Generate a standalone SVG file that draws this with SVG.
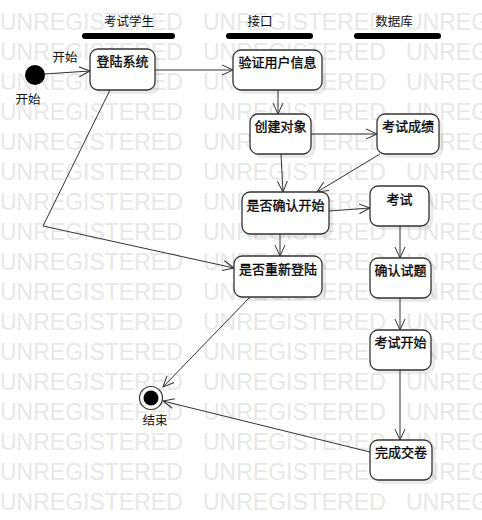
<svg xmlns="http://www.w3.org/2000/svg" xmlns:xlink="http://www.w3.org/1999/xlink" width="482" height="520" viewBox="0 0 482 520">
<style>
.wm{font-family:"Liberation Sans",Arial,sans-serif;font-size:23px;fill:#e8e8e8}
.box{fill:#fff;stroke:#333;stroke-width:1.3}
.shadow{fill:#000;fill-opacity:0.08}
.lbl{font-family:"Noto Sans CJK SC",sans-serif;font-size:13px;fill:#000;stroke:#000;stroke-width:0.3;text-anchor:middle}
.hdr{font-family:"Noto Sans CJK SC",sans-serif;font-size:12.5px;fill:#111;text-anchor:middle}
.note{font-family:"Noto Sans CJK SC",sans-serif;font-size:12.5px;fill:#111;text-anchor:middle}
.bar{fill:#000}
.edge{fill:none;stroke:#333;stroke-width:1;marker-end:url(#arr)}
</style>
<defs>
<marker id="arr" viewBox="0 0 12 12" refX="11" refY="6" markerWidth="12" markerHeight="12" markerUnits="userSpaceOnUse" orient="auto">
<path d="M0,1 L11,6 L0,11" fill="none" stroke="#333" stroke-width="1"/>
</marker>
<g id="wmrow">
<text class="wm" x="0">UNREGISTERED</text>
<text class="wm" x="203">UNREGISTERED</text>
<text class="wm" x="406">UNREGISTERED</text>
</g>
</defs>
<rect width="482" height="520" fill="#fff"/>
<g id="watermark">
<use xlink:href="#wmrow" y="30"/><use xlink:href="#wmrow" y="60"/><use xlink:href="#wmrow" y="90"/><use xlink:href="#wmrow" y="120"/><use xlink:href="#wmrow" y="150"/><use xlink:href="#wmrow" y="180"/><use xlink:href="#wmrow" y="210"/><use xlink:href="#wmrow" y="240"/><use xlink:href="#wmrow" y="270"/><use xlink:href="#wmrow" y="300"/><use xlink:href="#wmrow" y="330"/><use xlink:href="#wmrow" y="360"/><use xlink:href="#wmrow" y="390"/><use xlink:href="#wmrow" y="420"/><use xlink:href="#wmrow" y="450"/><use xlink:href="#wmrow" y="480"/><use xlink:href="#wmrow" y="510"/>
</g>
<g id="lanes">
<text class="hdr" x="129" y="26">考试学生</text>
<rect class="bar" x="82" y="33" width="93" height="6" rx="3"/>
<text class="hdr" x="260" y="26">接口</text>
<rect class="bar" x="226" y="33" width="87" height="6" rx="3"/>
<text class="hdr" x="394" y="26">数据库</text>
<rect class="bar" x="354" y="33" width="87" height="6" rx="3"/>
</g>
<g id="connectors">
<path class="edge" d="M44,74 L90,71"/>
<path class="edge" d="M155,70 L233,70"/>
<path class="edge" d="M278,90 L278,114"/>
<path class="edge" d="M311,134 L377,134"/>
<path class="edge" d="M281,154 L283,192"/>
<path class="edge" d="M380,154 L317,192"/>
<path class="edge" d="M329,211 L370,208"/>
<path class="edge" d="M280,234 L280,256"/>
<path class="edge" d="M110,90 L43,226 L234,268"/>
<path class="edge" d="M400,226 L400,258"/>
<path class="edge" d="M400,298 L400,330"/>
<path class="edge" d="M400,370 L400,440"/>
<path class="edge" d="M250,297 L163,387"/>
<path class="edge" d="M370,452 L163,401"/>
<text class="note" x="65" y="62">开始</text>
</g>
<g id="start">
<circle cx="35" cy="75" r="10" fill="#000"/>
<text class="note" x="28" y="104">开始</text>
</g>
<g id="end">
<circle cx="151" cy="398" r="11.5" fill="#fff" stroke="#333" stroke-width="1.2"/>
<circle cx="151" cy="398" r="7.5" fill="#000"/>
<text class="note" x="155" y="425">结束</text>
</g>
<g id="n-login"><rect class="shadow" x="94" y="53" width="65" height="41" rx="8"/><rect class="box" x="90" y="49" width="65" height="41" rx="8"/><text class="lbl" x="122.5" y="66">登陆系统</text></g>
<g id="n-verify"><rect class="shadow" x="237" y="54" width="89" height="40" rx="8"/><rect class="box" x="233" y="50" width="89" height="40" rx="8"/><text class="lbl" x="277.5" y="67">验证用户信息</text></g>
<g id="n-create"><rect class="shadow" x="254" y="118" width="61" height="40" rx="8"/><rect class="box" x="250" y="114" width="61" height="40" rx="8"/><text class="lbl" x="280.5" y="131">创建对象</text></g>
<g id="n-score"><rect class="shadow" x="381" y="118" width="62" height="40" rx="8"/><rect class="box" x="377" y="114" width="62" height="40" rx="8"/><text class="lbl" x="408" y="131">考试成绩</text></g>
<g id="n-confirm"><rect class="shadow" x="246" y="196" width="87" height="42" rx="8"/><rect class="box" x="242" y="192" width="87" height="42" rx="8"/><text class="lbl" x="285.5" y="210">是否确认开始</text></g>
<g id="n-exam"><rect class="shadow" x="374" y="190" width="59" height="40" rx="8"/><rect class="box" x="370" y="186" width="59" height="40" rx="8"/><text class="lbl" x="399.5" y="204">考试</text></g>
<g id="n-relogin"><rect class="shadow" x="238" y="260" width="88" height="41" rx="8"/><rect class="box" x="234" y="256" width="88" height="41" rx="8"/><text class="lbl" x="278" y="274">是否重新登陆</text></g>
<g id="n-question"><rect class="shadow" x="374" y="262" width="61" height="40" rx="8"/><rect class="box" x="370" y="258" width="61" height="40" rx="8"/><text class="lbl" x="400.5" y="275">确认试题</text></g>
<g id="n-startexam"><rect class="shadow" x="374" y="334" width="61" height="40" rx="8"/><rect class="box" x="370" y="330" width="61" height="40" rx="8"/><text class="lbl" x="400.5" y="347">考试开始</text></g>
<g id="n-submit"><rect class="shadow" x="374" y="444" width="62" height="40" rx="8"/><rect class="box" x="370" y="440" width="62" height="40" rx="8"/><text class="lbl" x="401" y="457">完成交卷</text></g>
</svg>
